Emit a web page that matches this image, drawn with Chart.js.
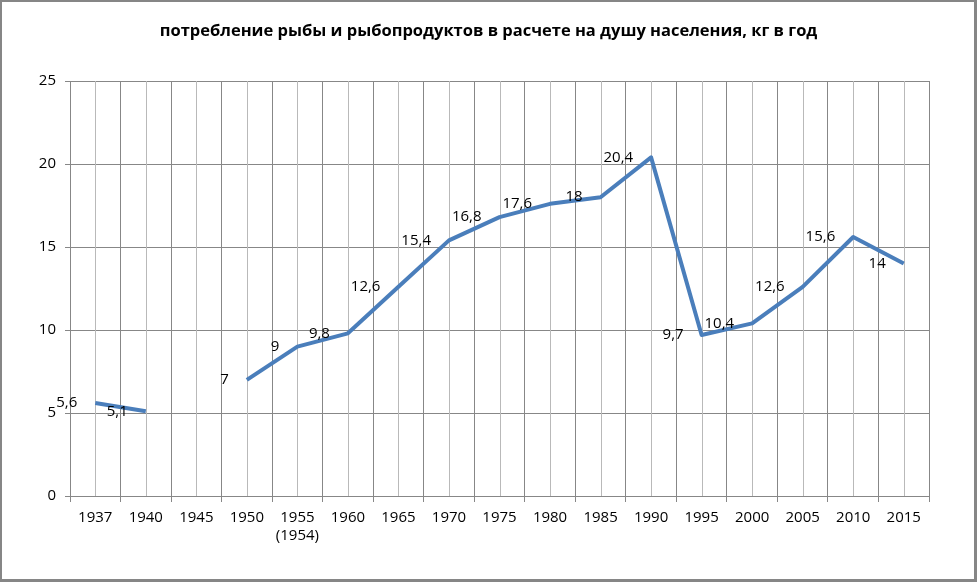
<!DOCTYPE html>
<html>
<head>
<meta charset="utf-8">
<script src="https://cdn.jsdelivr.net/npm/chart.js@4.4.0/dist/chart.umd.min.js"></script>
<style>
    html, body { margin: 0; padding: 0; background: #ffffff; }
    #wrap { width: 977px; height: 582px; }
</style>
</head>
<body>
<div id="wrap"><canvas id="fish-chart" width="977" height="582"></canvas></div>
<script>
const chartTitle = 'потребление рыбы и рыбопродуктов в расчете на душу населения, кг в год';

const years = ['1937', '1940', '1945', '1950', ['1955', '(1954)'], '1960', '1965', '1970',
    '1975', '1980', '1985', '1990', '1995', '2000', '2005', '2010', '2015'];

const fishPerCapita = [5.6, 5.1, null, 7, 9, 9.8, 12.6, 15.4,
    16.8, 17.6, 18, 20.4, 9.7, 10.4, 12.6, 15.6, 14];

const yTicks = [0, 5, 10, 15, 20, 25];

const FONT = '"Open Sans", "Liberation Sans", sans-serif';
const MAJOR_GRID = '#878787';
const MINOR_GRID = '#b9b9b9';

// рамка вокруг всей диаграммы и заголовок
const frameAndTitle = {
    id: 'frameAndTitle',
    beforeDraw(chart) {
        const ctx = chart.ctx;
        ctx.save();
        ctx.fillStyle = '#ffffff';
        ctx.fillRect(0, 0, chart.width, chart.height);
        ctx.restore();
    },
    afterDraw(chart) {
        const ctx = chart.ctx;
        const w = chart.width;
        const h = chart.height;
        ctx.save();
        ctx.fillStyle = '#868686';
        ctx.fillRect(0, 0, w, 2);
        ctx.fillRect(0, 0, 2, h);
        ctx.fillRect(w - 3, 0, 3, h);
        ctx.fillRect(0, h - 3, w, 3);

        ctx.font = 'bold 16.5px ' + FONT;
        ctx.fillStyle = '#000000';
        ctx.textAlign = 'center';
        ctx.textBaseline = 'middle';
        ctx.fillText(chartTitle, w / 2, 31);
        ctx.restore();
    }
};

// светлые линии по центрам категорий (как промежуточные линии сетки в Excel)
const minorGrid = {
    id: 'minorGrid',
    beforeDatasetsDraw(chart) {
        const ctx = chart.ctx;
        const x = chart.scales.x;
        const area = chart.chartArea;
        ctx.save();
        ctx.strokeStyle = MINOR_GRID;
        ctx.lineWidth = 1;
        for (let i = 0; i < years.length; i++) {
            const px = Math.round(x.getPixelForTick(i)) + 0.5;
            ctx.beginPath();
            ctx.moveTo(px, area.top);
            ctx.lineTo(px, area.bottom);
            ctx.stroke();
        }
        ctx.restore();
    }
};

// подписи значений слева от точек, с запятой
const valueLabels = {
    id: 'valueLabels',
    afterDatasetsDraw(chart) {
        const ctx = chart.ctx;
        const meta = chart.getDatasetMeta(0);
        const values = chart.data.datasets[0].data;
        ctx.save();
        ctx.font = '15px ' + FONT;
        ctx.fillStyle = '#000000';
        ctx.textAlign = 'right';
        ctx.textBaseline = 'middle';
        for (let i = 0; i < values.length; i++) {
            if (values[i] === null) continue;
            const pt = meta.data[i];
            ctx.fillText(String(values[i]).replace('.', ','), pt.x - 18, pt.y);
        }
        ctx.restore();
    }
};

new Chart(document.getElementById('fish-chart'), {
    type: 'line',
    data: {
        labels: years,
        datasets: [{
            data: fishPerCapita,
            borderColor: '#4a7ebb',
            borderWidth: 4,
            pointRadius: 0,
            pointHoverRadius: 0,
            tension: 0,
            spanGaps: false,
            borderJoinStyle: 'round'
        }]
    },
    options: {
        responsive: false,
        animation: false,
        devicePixelRatio: 1,
        layout: {
            padding: { top: 81, right: 48, bottom: 0, left: 0 }
        },
        plugins: {
            legend: { display: false },
            title: { display: false },
            tooltip: { enabled: false }
        },
        scales: {
            x: {
                type: 'category',
                offset: true,
                grid: {
                    offset: true,
                    color: MAJOR_GRID,
                    lineWidth: 1,
                    tickLength: 6,
                    drawTicks: true
                },
                border: { color: MAJOR_GRID, width: 1 },
                ticks: {
                    color: '#000000',
                    font: { family: FONT, size: 15, lineHeight: 1.25 },
                    padding: 6,
                    maxRotation: 0,
                    autoSkip: false
                },
                afterFit(scale) {
                    scale.height = 86;
                }
            },
            y: {
                min: 0,
                max: 25,
                afterBuildTicks(scale) {
                    scale.ticks = yTicks.map(v => ({ value: v }));
                },
                grid: {
                    color: MAJOR_GRID,
                    lineWidth: 1,
                    tickLength: 5,
                    drawTicks: true
                },
                border: { color: MAJOR_GRID, width: 1 },
                ticks: {
                    color: '#000000',
                    font: { family: FONT, size: 15 },
                    padding: 9
                },
                afterFit(scale) {
                    scale.width = 70;
                }
            }
        }
    },
    plugins: [frameAndTitle, minorGrid, valueLabels]
});
</script>
</body>
</html>
